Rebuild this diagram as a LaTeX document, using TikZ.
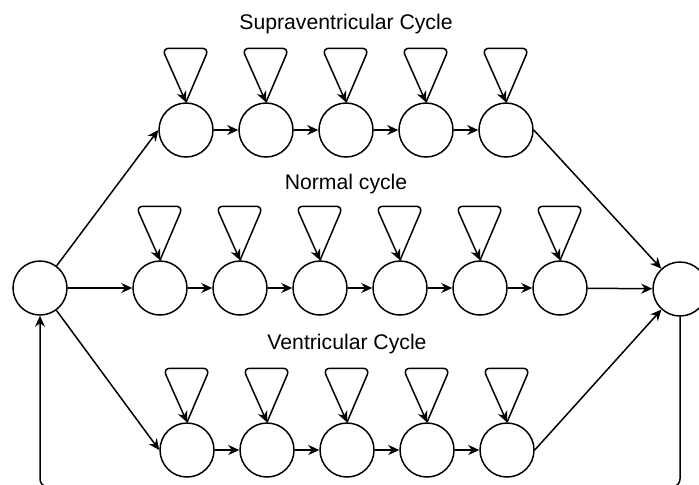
\documentclass[tikz,border=0pt]{standalone}
\usepackage{fontspec}
\setmainfont{Liberation Sans}
\usetikzlibrary{arrows.meta,positioning}

\begin{document}
\begin{tikzpicture}[x=0.5pt,y=-0.5pt,
    state/.style={circle,draw,line width=0.75pt,minimum size=27pt,inner sep=0pt},
    link/.style={line width=0.75pt,-{Stealth[length=5.5pt,width=5pt]}},
    cyclelabel/.style={font=\fontsize{10.6}{12}\selectfont}]
    \useasboundingbox (0,0) rectangle (699,484);
    % Entry and exit states
    \node[state] (start) at (40,288) {};
    \node[state] (stop) at (680,289) {};
    % Cycle titles
    \node[cyclelabel] (lblsupra) at (346,24) {Supraventricular Cycle};
    \node[cyclelabel] (lblnormal) at (346,184) {Normal cycle};
    \node[cyclelabel] (lblventr) at (347,344) {Ventricular Cycle};
    % States of the three cycles
    \foreach \i in {1,...,5}
        \node[state] (t\i) at ({186+80*(\i-1)},130) {};
    \foreach \i in {1,...,6}
        \node[state] (m\i) at ({160+80*(\i-1)},288) {};
    \foreach \i in {1,...,5}
        \node[state] (b\i) at ({187+80*(\i-1)},450) {};
    % Self loops
    \foreach \n in {t1,t2,t3,t4,t5,m1,m2,m3,m4,m5,m6,b1,b2,b3,b4,b5}
        \draw[link,rounded corners=3.5pt] (\n.north) -- ++(23,-54) -- ++(-47,0) -- (\n.north);
    % Transitions along each cycle
    \foreach \i/\j in {1/2,2/3,3/4,4/5} {
        \draw[link] (t\i) -- (t\j);
        \draw[link] (b\i) -- (b\j);
    }
    \foreach \i/\j in {1/2,2/3,3/4,4/5,5/6}
        \draw[link] (m\i) -- (m\j);
    % Branching in and out
    \draw[link] (start) -- (t1.west);
    \draw[link] (start) -- (m1);
    \draw[link] (start) -- (b1.west);
    \draw[link] (t5.east) -- (stop);
    \draw[link] (m6) -- (stop);
    \draw[link] (b5.east) -- (stop);
    % Return path
    \coordinate (back) at (0,487);
    \draw[link,rounded corners=4pt] (stop.south) -- (stop.south |- back)
        -- (start.south |- back) -- (start.south);
\end{tikzpicture}
\end{document}
